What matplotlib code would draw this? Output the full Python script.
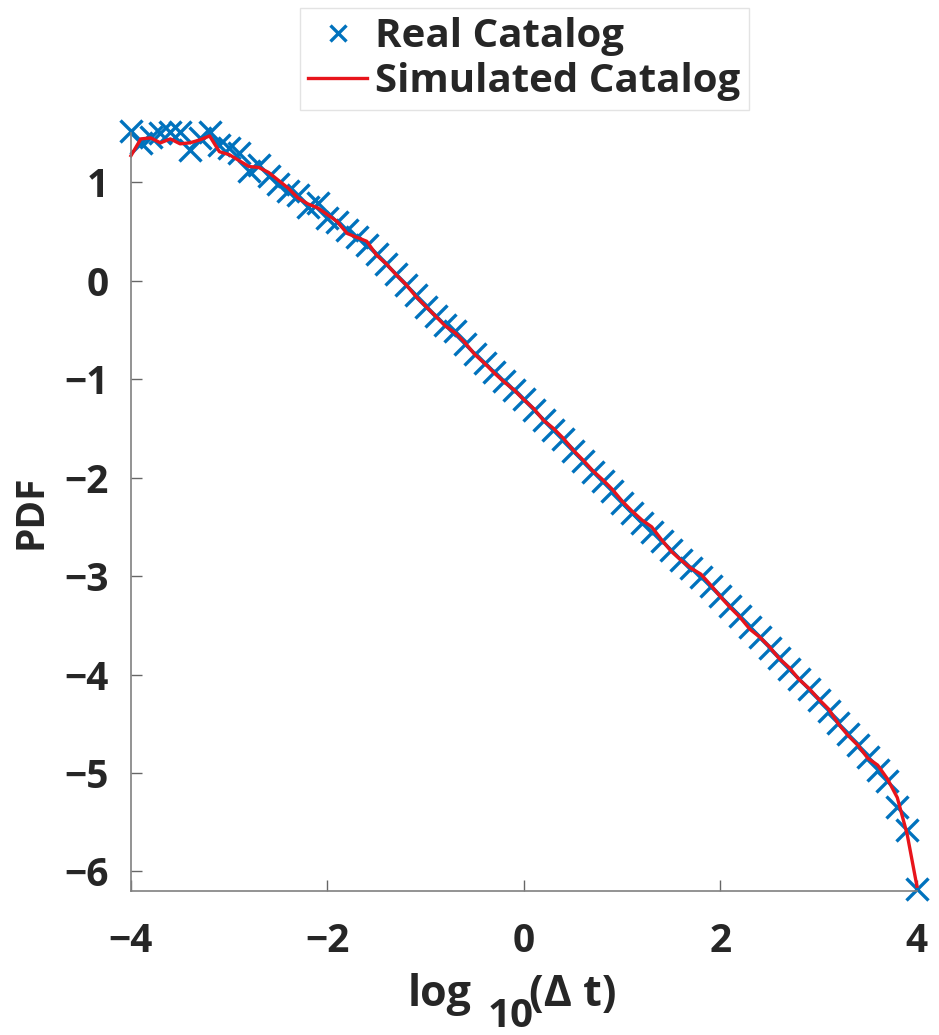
import matplotlib
matplotlib.use("Agg")
import matplotlib.pyplot as plt

x_real = [-4.0, -3.9, -3.8, -3.7, -3.6, -3.5, -3.4, -3.3, -3.2, -3.1,
          -3.0, -2.9, -2.8, -2.7, -2.6, -2.5, -2.4, -2.3, -2.2, -2.1,
          -2.0, -1.9, -1.8, -1.7, -1.6, -1.5, -1.4, -1.3, -1.2, -1.1,
          -1.0, -0.9, -0.8, -0.7, -0.6, -0.5, -0.4, -0.3, -0.2, -0.1,
          0.0, 0.1, 0.2, 0.3, 0.4, 0.5, 0.6, 0.7, 0.8, 0.9,
          1.0, 1.1, 1.2, 1.3, 1.4, 1.5, 1.6, 1.7, 1.8, 1.9,
          2.0, 2.1, 2.2, 2.3, 2.4, 2.5, 2.6, 2.7, 2.8, 2.9,
          3.0, 3.1, 3.2, 3.3, 3.4, 3.5, 3.6, 3.7, 3.8, 3.9, 4.0]
y_real = [1.52, 1.40, 1.46, 1.50, 1.51, 1.51, 1.33, 1.45, 1.51, 1.38,
          1.35, 1.30, 1.11, 1.18, 1.06, 0.98, 0.91, 0.87, 0.75, 0.79,
          0.64, 0.60, 0.51, 0.44, 0.36, 0.27, 0.17, 0.07, -0.04, -0.15,
          -0.27, -0.36, -0.45, -0.51, -0.64, -0.74, -0.84, -0.93, -1.02, -1.11,
          -1.20, -1.31, -1.41, -1.52, -1.61, -1.73, -1.83, -1.94, -2.03, -2.14,
          -2.26, -2.36, -2.46, -2.55, -2.64, -2.74, -2.84, -2.92, -3.01, -3.10,
          -3.20, -3.30, -3.41, -3.52, -3.62, -3.73, -3.83, -3.94, -4.05, -4.15,
          -4.26, -4.37, -4.49, -4.60, -4.72, -4.84, -4.97, -5.08, -5.35, -5.58, -6.18]

x_sim = x_real
y_sim = [1.27, 1.44, 1.45, 1.40, 1.44, 1.39, 1.40, 1.43, 1.47, 1.31,
         1.28, 1.22, 1.16, 1.15, 1.10, 1.02, 0.94, 0.84, 0.78, 0.74,
         0.67, 0.60, 0.48, 0.44, 0.40, 0.26, 0.17, 0.06, -0.04, -0.16,
         -0.26, -0.36, -0.46, -0.53, -0.63, -0.75, -0.84, -0.94, -1.03, -1.11,
         -1.21, -1.30, -1.42, -1.50, -1.60, -1.72, -1.82, -1.93, -2.02, -2.12,
         -2.24, -2.34, -2.43, -2.50, -2.63, -2.75, -2.84, -2.92, -2.98, -3.09,
         -3.21, -3.32, -3.42, -3.54, -3.62, -3.72, -3.84, -3.93, -4.05, -4.14,
         -4.25, -4.35, -4.50, -4.62, -4.72, -4.85, -4.92, -5.06, -5.25, -5.62, -6.15]

x_ticks = [-4, -2, 0, 2, 4]
y_ticks = [-6, -5, -4, -3, -2, -1, 0, 1]
labels = ["Real Catalog", "Simulated Catalog"]

plt.rcParams['font.family'] = ['Open Sans', 'DejaVu Sans']
plt.rcParams['font.weight'] = 'bold'
txt = '#262626'

fig = plt.figure(figsize=(9.39, 10.35), dpi=100)
ax = fig.add_axes([0.1395, 0.139, 0.837, 0.7325])

ax.plot(x_real, y_real, linestyle='none', marker='x', markersize=16,
        markeredgewidth=2.4, color='#0072BD', label=labels[0], clip_on=False)
ax.plot(x_sim, y_sim, color='#E8141B', linewidth=2.4, label=labels[1],
        clip_on=False)

ax.set_xlim(-4, 4)
ax.set_ylim(-6.2, 1.5)
ax.set_xticks(x_ticks)
ax.set_yticks(y_ticks)
ax.set_xticklabels([str(v).replace('-', '\u2212') for v in x_ticks])
ax.set_yticklabels([str(v).replace('-', '\u2212') for v in y_ticks])
ax.tick_params(direction='in', length=8, width=1, color='#666666',
               labelsize=28, labelcolor=txt)
ax.tick_params(axis='x', pad=22)
ax.tick_params(axis='y', pad=16)
for s in ['top', 'right']:
    ax.spines[s].set_visible(False)
for s in ['left', 'bottom']:
    ax.spines[s].set_color('#808080')
    ax.spines[s].set_linewidth(1.2)

ax.set_ylabel('PDF', fontsize=28, fontweight='bold', color=txt, labelpad=10)

fig.text(0.4345, 1 - 1006 / 1035, 'log', fontsize=31, fontweight='bold',
         color=txt, ha='left', va='baseline')
fig.text(0.519, 1 - 1027 / 1035, '10', fontsize=29, fontweight='bold',
         color=txt, ha='left', va='baseline')
fig.text(0.563, 1 - 1006 / 1035, '(\u0394 t)', fontsize=31, fontweight='bold',
         color=txt, ha='left', va='baseline')

leg = fig.legend(loc='upper left', bbox_to_anchor=(0.319, 0.992),
                 fontsize=29, frameon=True, fancybox=False,
                 handlelength=1.45, handletextpad=0.2, borderpad=0.22,
                 labelspacing=0.15, borderaxespad=0, markerscale=0.75)
leg.get_frame().set_edgecolor('#dddddd')
leg.get_frame().set_linewidth(1.0)
for t in leg.get_texts():
    t.set_color(txt)

fig.savefig('out.png', dpi=100)
